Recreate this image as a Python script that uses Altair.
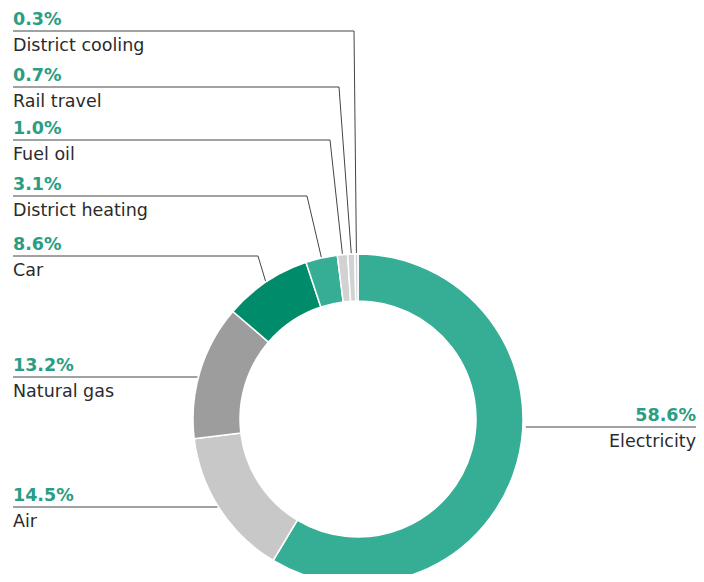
import altair as alt
import numpy as np
import pandas as pd

# ---------------- data ----------------
categories = ["Electricity", "Air", "Natural gas", "Car", "District heating",
              "Fuel oil", "Rail travel", "District cooling"]
shares = [58.6, 14.5, 13.2, 8.6, 3.1, 1.0, 0.7, 0.3]
pct_labels = ["58.6%", "14.5%", "13.2%", "8.6%", "3.1%", "1.0%", "0.7%", "0.3%"]

# ---------------- styles ----------------
slice_colors = ["#36AE96", "#C8C8C8", "#9D9D9D", "#008C6A", "#36AE96",
                "#D2D2D2", "#D2D2D2", "#D2D2D2"]
PCT_COLOR = "#2A9D82"
NAME_COLOR = "#2B2B2B"
LINE_COLOR = "#444444"
FONT = "DejaVu Sans"
FS = 17.5

# ---------------- layout (plot-area pixels) ----------------
W, H = 688, 566
CX, CY = 350, 411
R_OUT, R_IN = 165, 118
LEFT_X = 5
RIGHT_X = 688
# label underline y per category, side, and bend x of leader (None = horizontal to ring)
label_line_y = [419, 499, 369, 248, 188, 132, 79, 23]
label_side = ["right", "left", "left", "left", "left", "left", "left", "left"]
bend_x = [None, None, None, 250, 299, 322, 331, 346]

df = pd.DataFrame({"category": categories, "share": shares,
                   "pct": pct_labels, "idx": list(range(len(categories)))})

# slice mid angles (clockwise from 12 o'clock) from the data
tot = sum(shares)
cum = np.cumsum(shares)
mid = (cum - np.array(shares) / 2) / tot * 2 * np.pi

segs = []
for i, cat in enumerate(categories):
    ly = label_line_y[i]
    if bend_x[i] is not None:
        ax = CX + (R_OUT + 1) * np.sin(mid[i])
        ay = CY - (R_OUT + 1) * np.cos(mid[i])
        segs.append(dict(x=LEFT_X, y=ly, x2=bend_x[i], y2=ly))
        segs.append(dict(x=bend_x[i], y=ly, x2=ax, y2=ay))
    else:
        dx = np.sqrt(R_OUT ** 2 - (ly - CY) ** 2)
        if label_side[i] == "left":
            segs.append(dict(x=LEFT_X, y=ly, x2=CX - dx - 1, y2=ly))
        else:
            segs.append(dict(x=CX + dx + 3, y=ly, x2=RIGHT_X, y2=ly))
seg_df = pd.DataFrame(segs)

lab = pd.DataFrame({
    "name": categories, "pct": pct_labels,
    "side": label_side,
    "x": [RIGHT_X if s == "right" else LEFT_X for s in label_side],
    "y_pct": [y - 6 for y in label_line_y],
    "y_name": [y + 20 for y in label_line_y],
})
left = lab[lab.side == "left"]
right = lab[lab.side == "right"]

xs = alt.Scale(domain=[0, W], nice=False, zero=False)
ys = alt.Scale(domain=[0, H], nice=False, zero=False, reverse=True)

arcs = alt.Chart(df).mark_arc(
    innerRadius=R_IN, outerRadius=R_OUT, stroke="white", strokeWidth=1.5
).encode(
    theta=alt.Theta("share:Q", stack=True),
    order=alt.Order("idx:Q"),
    color=alt.Color("category:N", scale=alt.Scale(domain=categories, range=slice_colors), legend=None),
    x=alt.value(CX), y=alt.value(CY),
)

rules = alt.Chart(seg_df).mark_rule(color=LINE_COLOR, strokeWidth=1).encode(
    x=alt.X("x:Q", scale=xs, axis=None), y=alt.Y("y:Q", scale=ys, axis=None),
    x2="x2:Q", y2="y2:Q",
)

def text_layers(d, align):
    pct = alt.Chart(d).mark_text(
        font=FONT, fontSize=FS, fontWeight="bold", color=PCT_COLOR,
        align=align, baseline="alphabetic"
    ).encode(x=alt.X("x:Q", scale=xs, axis=None),
             y=alt.Y("y_pct:Q", scale=ys, axis=None), text="pct:N")
    name = alt.Chart(d).mark_text(
        font=FONT, fontSize=FS, color=NAME_COLOR,
        align=align, baseline="alphabetic"
    ).encode(x=alt.X("x:Q", scale=xs, axis=None),
             y=alt.Y("y_name:Q", scale=ys, axis=None), text="name:N")
    return [pct, name]

chart = alt.layer(
    arcs, rules, *text_layers(left, "left"), *text_layers(right, "right")
).properties(
    width=W, height=H, padding=0, autosize=alt.AutoSizeParams(type="none")
).configure_view(stroke=None)

chart.save("out.html", embed_options={"renderer": "svg", "actions": False})
